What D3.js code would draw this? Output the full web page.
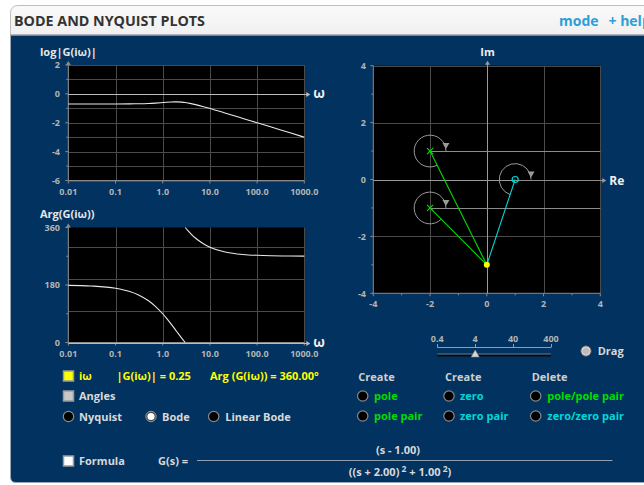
<!DOCTYPE html>
<html>
<head>
<meta charset="utf-8">
<script src="https://cdn.jsdelivr.net/npm/d3@7"></script>
<style>
  html, body { margin: 0; padding: 0; background: #fff; }
  svg { display: block; font-family: "Open Sans", "DejaVu Sans", sans-serif; }
</style>
</head>
<body>
<svg id="chart" width="644" height="485"></svg>
<script>
// ---- Transfer function G(s) = (s - 1) / ((s + 2)^2 + 1) ----
const poleRe = [-2, -2];
const poleIm = [1, -1];
const zeroRe = [1];
const zeroIm = [0];
const testIm = -3;                 // s = iω on the imaginary axis
const readMag = 0.25;
const readArg = 360.00;

// Bode magnitude, log10|G(iω)|
const magOmega = [0.01, 0.03, 0.1, 0.2, 0.3, 0.5, 0.7, 1, 1.2, 1.5, 1.75, 2, 2.5, 3, 4, 5, 7, 10, 20, 30, 50, 100, 200, 500, 1000];
const magLog   = [-0.699, -0.699, -0.697, -0.693, -0.685, -0.664, -0.638, -0.602, -0.583, -0.564, -0.557, -0.557, -0.573, -0.602, -0.673, -0.744, -0.868, -1.011, -1.304, -1.478, -1.699, -2.000, -2.301, -2.699, -3.000];

// Bode phase in degrees, two branches (wraps at ω = 3)
const phaseLowOmega  = [0.01, 0.03, 0.1, 0.2, 0.3, 0.5, 0.7, 1, 1.2, 1.5, 2, 2.5, 3];
const phaseLow       = [178.97, 176.9, 169.7, 159.5, 149.6, 130.6, 113.2, 90.0, 76.4, 58.3, 33.7, 14.7, 0];
const phaseHighOmega = [3, 3.5, 4, 5, 7, 10, 20, 30, 50, 100, 200, 500, 1000];
const phaseHigh      = [360, 348.6, 339.5, 326.3, 310.6, 298.5, 284.3, 279.6, 275.7, 272.9, 271.4, 270.6, 270.3];

// Axis ticks
const omegaTicks  = [0.01, 0.1, 1, 10, 100, 1000];
const omegaLabels = ["0.01", "0.1", "1.0", "10.0", "100.0", "1000.0"];
const magTicks    = [2, 0, -2, -4, -6];
const phaseTicks  = [360, 180, 0];
const planeTicks  = [-4, -2, 0, 2, 4];
const sliderTicks = [0.4, 4, 40, 400];
const sliderValue = 4;             // half-width of the s-plane view

const NAVY = "#02325f";
const GRID = "#4b4b4b";
const AXIS = "#8a8a8a";
const TICKTXT = "#b4b4b4";
const GREEN = "#00dd00";
const CYAN = "#00d8d8";

const svg = d3.select("#chart");

// ---- Panel frame ----
const defs = svg.append("defs");
const hg = defs.append("linearGradient").attr("id", "hdr").attr("x1", 0).attr("y1", 0).attr("x2", 0).attr("y2", 1);
hg.append("stop").attr("offset", "0%").attr("stop-color", "#fafafa");
hg.append("stop").attr("offset", "100%").attr("stop-color", "#ececec");

svg.append("rect").attr("x", 10.5).attr("y", 5.5).attr("width", 660).attr("height", 40)
  .attr("rx", 7).attr("fill", "url(#hdr)").attr("stroke", "#bdbdbd");
svg.append("path")
  .attr("d", "M10.5,35 L660,35 L660,482.5 L16,482.5 Q10.5,482.5 10.5,477 Z")
  .attr("fill", NAVY).attr("stroke", "#9aa7b5").attr("stroke-width", 1);
svg.append("line").attr("x1", 10.5).attr("x2", 644).attr("y1", 35).attr("y2", 35)
  .attr("stroke", "#9aa0a6");

svg.append("text").attr("x", 14).attr("y", 25.5)
  .attr("font-size", 14.3).attr("font-weight", 700).attr("fill", "#333")
  .text("BODE AND NYQUIST PLOTS");
svg.append("text").attr("x", 559).attr("y", 25.5)
  .attr("font-size", 14).attr("font-weight", 700).attr("fill", "#2b9fd8")
  .text("mode");
svg.append("text").attr("x", 608.5).attr("y", 25.5)
  .attr("font-size", 14).attr("font-weight", 700).attr("fill", "#2b9fd8")
  .text("+ help");

// small helpers
function arrowUp(g, x, y) {
  g.append("path").attr("d", `M${x},${y} l-2.5,4 l5,0 Z`).attr("fill", AXIS);
}
function arrowRight(g, x, y, color) {
  g.append("path").attr("d", `M${x},${y} l-4,-2.5 l0,5 Z`).attr("fill", color);
}

// ---- Bode plots ----
const bx = d3.scaleLog().domain([0.01, 1000]).range([68.3, 304.3]);
const magY = d3.scaleLinear().domain([-6, 2]).range([180.5, 65]);
const phY = d3.scaleLinear().domain([0, 360]).range([342.5, 227.5]);

function bodePanel(yScale, yTicks, minorTicks, title, titleY, axisValue) {
  const g = svg.append("g");
  const [y0, y1] = yScale.range();
  const [x0, x1] = bx.range();
  g.append("rect").attr("x", x0).attr("y", y1).attr("width", x1 - x0).attr("height", y0 - y1).attr("fill", "#000");
  // grid
  const hLines = yScale.ticks(yScale.domain()[1] - yScale.domain()[0] > 100 ? 4 : 8);
  g.selectAll(".gh").data(hLines).join("line")
    .attr("x1", x0).attr("x2", x1).attr("y1", d => Math.round(yScale(d)) + 0.5).attr("y2", d => Math.round(yScale(d)) + 0.5)
    .attr("stroke", GRID);
  g.selectAll(".gv").data(omegaTicks).join("line")
    .attr("x1", d => Math.round(bx(d)) + 0.5).attr("x2", d => Math.round(bx(d)) + 0.5).attr("y1", y1).attr("y2", y0)
    .attr("stroke", GRID);
  // left axis
  g.append("line").attr("x1", x0).attr("x2", x0).attr("y1", y0).attr("y2", y1 - 3).attr("stroke", AXIS);
  arrowUp(g, x0, y1 - 4);
  g.selectAll(".tl").data(yTicks).join("line")
    .attr("x1", x0 - 3).attr("x2", x0).attr("y1", d => yScale(d)).attr("y2", d => yScale(d)).attr("stroke", AXIS);
  g.selectAll(".tm").data(minorTicks).join("line")
    .attr("x1", x0 - 2).attr("x2", x0).attr("y1", d => yScale(d)).attr("y2", d => yScale(d)).attr("stroke", AXIS);
  g.selectAll(".yl").data(yTicks).join("text")
    .attr("x", 60).attr("y", d => yScale(d) + 3.2).attr("text-anchor", "end")
    .attr("font-size", 9).attr("font-weight", 700).attr("fill", TICKTXT).text(d => d);
  // bottom axis
  g.append("line").attr("x1", x0).attr("x2", x1).attr("y1", y0).attr("y2", y0).attr("stroke", AXIS);
  g.selectAll(".tb").data(omegaTicks).join("line")
    .attr("x1", d => bx(d)).attr("x2", d => bx(d)).attr("y1", y0).attr("y2", y0 + 3).attr("stroke", AXIS);
  g.selectAll(".xl").data(omegaTicks).join("text")
    .attr("x", d => bx(d)).attr("y", y0 + 14.5).attr("text-anchor", "middle")
    .attr("font-size", 9).attr("font-weight", 700).attr("fill", TICKTXT)
    .text((d, i) => omegaLabels[i]);
  // ω axis line
  const ya = Math.round(yScale(axisValue)) + 0.5;
  g.append("line").attr("x1", x0).attr("x2", x1 + 4).attr("y1", ya).attr("y2", ya).attr("stroke", "#bdbdbd");
  arrowRight(g, x1 + 6, ya, "#bdbdbd");
  g.append("text").attr("x", x1 + 9).attr("y", ya + 3.5).attr("font-size", 13.5).attr("font-weight", 700)
    .attr("fill", "#f0f0f0").text("ω");
  g.append("text").attr("x", 40).attr("y", titleY).attr("font-size", 11).attr("font-weight", 700)
    .attr("fill", "#e6e6e6").text(title);
  return g;
}

const gMag = bodePanel(magY, magTicks, [1, -1, -3, -5], "log|G(iω)|", 56, 0);
const gPh = bodePanel(phY, phaseTicks, [270, 90], "Arg(G(iω))", 218, 0);

const magLine = d3.line().x(d => bx(d[0])).y(d => magY(d[1])).curve(d3.curveMonotoneX);
gMag.append("path").datum(d3.zip(magOmega, magLog)).attr("d", magLine)
  .attr("fill", "none").attr("stroke", "#e8e8e8").attr("stroke-width", 1.1);

const phLine = d3.line().x(d => bx(d[0])).y(d => phY(d[1])).curve(d3.curveMonotoneX);
[[phaseLowOmega, phaseLow], [phaseHighOmega, phaseHigh]].forEach(([w, p]) => {
  gPh.append("path").datum(d3.zip(w, p)).attr("d", phLine)
    .attr("fill", "none").attr("stroke", "#e8e8e8").attr("stroke-width", 1.1);
});

// ---- s-plane (pole/zero) plot ----
const px = d3.scaleLinear().domain([-sliderValue, sliderValue]).range([373.3, 600.3]);
const py = d3.scaleLinear().domain([-sliderValue, sliderValue]).range([293.3, 65.7]);
const gp = svg.append("g");
gp.append("rect").attr("x", px(-4)).attr("y", py(4)).attr("width", px(4) - px(-4)).attr("height", py(-4) - py(4)).attr("fill", "#000");
gp.selectAll(".gx").data(planeTicks.slice(1)).join("line")
  .attr("x1", d => Math.round(px(d)) + 0.5).attr("x2", d => Math.round(px(d)) + 0.5)
  .attr("y1", py(4)).attr("y2", py(-4)).attr("stroke", GRID);
gp.selectAll(".gy").data(planeTicks.slice(1)).join("line")
  .attr("y1", d => Math.round(py(d)) + 0.5).attr("y2", d => Math.round(py(d)) + 0.5)
  .attr("x1", px(-4)).attr("x2", px(4)).attr("stroke", GRID);
// left and bottom axes
gp.append("line").attr("x1", px(-4)).attr("x2", px(-4)).attr("y1", py(-4)).attr("y2", py(4)).attr("stroke", AXIS);
gp.append("line").attr("x1", px(-4)).attr("x2", px(4)).attr("y1", py(-4)).attr("y2", py(-4)).attr("stroke", AXIS);
const minorPlane = [-3, -1, 1, 3];
gp.selectAll(".ty").data(planeTicks).join("line")
  .attr("x1", px(-4) - 3).attr("x2", px(-4)).attr("y1", d => py(d)).attr("y2", d => py(d)).attr("stroke", AXIS);
gp.selectAll(".tym").data(minorPlane).join("line")
  .attr("x1", px(-4) - 2).attr("x2", px(-4)).attr("y1", d => py(d)).attr("y2", d => py(d)).attr("stroke", AXIS);
gp.selectAll(".tx").data(planeTicks).join("line")
  .attr("y1", py(-4)).attr("y2", py(-4) + 3).attr("x1", d => px(d)).attr("x2", d => px(d)).attr("stroke", AXIS);
gp.selectAll(".txm").data(minorPlane).join("line")
  .attr("y1", py(-4)).attr("y2", py(-4) + 2).attr("x1", d => px(d)).attr("x2", d => px(d)).attr("stroke", AXIS);
gp.selectAll(".yl").data(planeTicks).join("text")
  .attr("x", 366).attr("y", d => py(d) + 3.2).attr("text-anchor", "end")
  .attr("font-size", 9).attr("font-weight", 700).attr("fill", TICKTXT).text(d => d);
gp.selectAll(".xl").data(planeTicks).join("text")
  .attr("x", d => px(d)).attr("y", py(-4) + 14).attr("text-anchor", "middle")
  .attr("font-size", 9).attr("font-weight", 700).attr("fill", TICKTXT).text(d => d);
// Re / Im axes
const reY = Math.round(py(0)) + 0.5, imX = Math.round(px(0)) + 0.5;
gp.append("line").attr("x1", px(-4)).attr("x2", px(4) + 4).attr("y1", reY).attr("y2", reY).attr("stroke", "#9a9a9a");
arrowRight(gp, px(4) + 6, reY, "#9a9a9a");
gp.append("line").attr("x1", imX).attr("x2", imX).attr("y1", py(-4)).attr("y2", py(4) - 3).attr("stroke", "#9a9a9a");
gp.append("path").attr("d", `M${imX},${py(4) - 5} l-2.5,4 l5,0 Z`).attr("fill", "#9a9a9a");
gp.append("text").attr("x", px(4) + 9).attr("y", reY + 4.5).attr("font-size", 12).attr("font-weight", 700)
  .attr("fill", "#f0f0f0").text("Re");
gp.append("text").attr("x", imX).attr("y", 56).attr("text-anchor", "middle").attr("font-size", 11).attr("font-weight", 700)
  .attr("fill", "#f0f0f0").text("Im");

// angle construction for each pole and zero
const roots = poleRe.map((r, i) => ({ re: r, im: poleIm[i], kind: "pole" }))
  .concat(zeroRe.map((r, i) => ({ re: r, im: zeroIm[i], kind: "zero" })));
const arcR = 0.56;
roots.forEach(d => {
  const cx = px(d.re), cy = py(d.im);
  // reference line to the right
  gp.append("line").attr("x1", cx).attr("x2", px(4)).attr("y1", Math.round(cy) + 0.5).attr("y2", Math.round(cy) + 0.5)
    .attr("stroke", "#8c8c8c");
  // angle arc
  let th = Math.atan2(testIm - d.im, 0 - d.re);
  if (th < 0) th += 2 * Math.PI;
  const r = px(arcR) - px(0);
  const p = d3.path();
  p.moveTo(cx + r, cy);
  p.arc(cx, cy, r, 0, -th, true);
  gp.append("path").attr("d", p.toString()).attr("fill", "none").attr("stroke", "#9a9a9a");
  gp.append("path").attr("d", `M${cx + r - 3.5},${cy - 8} l7,0 l-3.5,6 Z`).attr("fill", "#9a9a9a");
});
// lines from each root to iω
const tx = px(0), ty = py(testIm);
roots.forEach(d => {
  gp.append("line").attr("x1", px(d.re)).attr("y1", py(d.im)).attr("x2", tx).attr("y2", ty)
    .attr("stroke", d.kind === "pole" ? GREEN : CYAN).attr("stroke-width", 1.1);
});
roots.filter(d => d.kind === "pole").forEach(d => {
  const cx = px(d.re), cy = py(d.im);
  gp.append("path").attr("d", `M${cx - 3},${cy - 3} L${cx + 3},${cy + 3} M${cx - 3},${cy + 3} L${cx + 3},${cy - 3}`)
    .attr("stroke", GREEN).attr("stroke-width", 1.2);
});
roots.filter(d => d.kind === "zero").forEach(d => {
  gp.append("circle").attr("cx", px(d.re)).attr("cy", py(d.im)).attr("r", 3)
    .attr("fill", "none").attr("stroke", CYAN).attr("stroke-width", 1.2);
});
gp.append("circle").attr("cx", tx).attr("cy", ty).attr("r", 3).attr("fill", "#ffff00");

// ---- Range slider ----
const sx = d3.scaleLog().domain([0.4, 400]).range([437.3, 551]);
const gs = svg.append("g");
gs.selectAll("text").data(sliderTicks).join("text")
  .attr("x", d => sx(d)).attr("y", 341.5).attr("text-anchor", "middle")
  .attr("font-size", 9).attr("font-weight", 700).attr("fill", TICKTXT).text(d => d);
gs.append("line").attr("x1", sx(0.4)).attr("x2", sx(400)).attr("y1", 347.5).attr("y2", 347.5).attr("stroke", "#9a9a9a");
gs.selectAll(".st").data(sliderTicks).join("line")
  .attr("x1", d => Math.round(sx(d)) + 0.5).attr("x2", d => Math.round(sx(d)) + 0.5)
  .attr("y1", 344).attr("y2", 347.5).attr("stroke", "#9a9a9a");
gs.append("line").attr("x1", sx(0.4)).attr("x2", sx(400)).attr("y1", 355.5).attr("y2", 355.5)
  .attr("stroke", "#0a0a0a").attr("stroke-width", 2);
gs.append("line").attr("x1", sx(0.4)).attr("x2", sx(400)).attr("y1", 354).attr("y2", 354)
  .attr("stroke", "#7d8b99").attr("stroke-width", 0.8);
gs.append("path").attr("d", `M${sx(sliderValue)},${350} l-4,7 l8,0 Z`).attr("fill", "#d8d8d8").attr("stroke", "#888").attr("stroke-width", 0.6);

// ---- Controls ----
const ctrl = svg.append("g").attr("font-size", 11).attr("font-weight", 700);
function radio(x, y, state) {
  if (state === "on") {
    ctrl.append("circle").attr("cx", x).attr("cy", y).attr("r", 5.2).attr("fill", "#444").attr("stroke", "#999");
    ctrl.append("circle").attr("cx", x).attr("cy", y).attr("r", 3.6).attr("fill", "#fff");
  } else if (state === "drag") {
    ctrl.append("circle").attr("cx", x).attr("cy", y).attr("r", 5.2).attr("fill", "#ddd").attr("stroke", "#555");
    ctrl.append("circle").attr("cx", x).attr("cy", y).attr("r", 3.5).attr("fill", "#bcbcbc");
  } else {
    ctrl.append("circle").attr("cx", x).attr("cy", y).attr("r", 5.2).attr("fill", "#000").attr("stroke", "#8a8a8a").attr("stroke-width", 1.2);
  }
}
function checkbox(x, y, fill) {
  ctrl.append("rect").attr("x", x - 5).attr("y", y - 5).attr("width", 10).attr("height", 10)
    .attr("fill", fill).attr("stroke", "#9a9a9a").attr("stroke-width", 1.5);
}
function label(x, y, t, color) {
  ctrl.append("text").attr("x", x).attr("y", y + 4).attr("fill", color || "#d9d9d9").text(t);
}
const YEL = "#ffff00";
checkbox(68.5, 376, YEL);
label(79, 376, "iω", YEL);
label(116.5, 376, `|G(iω)| = ${readMag.toFixed(2)}`, YEL);
label(210, 376, `Arg (G(iω)) = ${readArg.toFixed(2)}°`, YEL);
checkbox(68.5, 396, "#c8c8c8");
label(79, 396, "Angles");
radio(68.5, 416.5); label(79, 416.5, "Nyquist");
radio(151, 416.5, "on"); label(162, 416.5, "Bode");
radio(213.7, 416.5); label(225.3, 416.5, "Linear Bode");
checkbox(68.5, 461, "#fff");
label(79, 461, "Formula");
label(158, 461, "G(s) =");

radio(586, 351, "drag"); label(597.7, 351, "Drag");
label(358.3, 376.5, "Create", "#cfcfcf");
label(445, 376.5, "Create", "#cfcfcf");
label(531.7, 376.5, "Delete", "#cfcfcf");
radio(362.7, 396); label(374, 396, "pole", GREEN);
radio(362.7, 416); label(374, 416, "pole pair", GREEN);
radio(449, 396); label(460, 396, "zero", CYAN);
radio(449, 416); label(460, 416, "zero pair", CYAN);
radio(535.7, 396); label(547.3, 396, "pole/pole pair", GREEN);
radio(535.7, 416); label(547.3, 416, "zero/zero pair", CYAN);

// formula fraction
const fmt = v => v.toFixed(2);
const fg = svg.append("g").attr("font-size", 11).attr("font-weight", 700).attr("fill", "#d9d9d9");
fg.append("line").attr("x1", 197).attr("x2", 612.5).attr("y1", 460.5).attr("y2", 460.5).attr("stroke", "#8fa0b3");
fg.append("text").attr("x", 398).attr("y", 453.5).attr("text-anchor", "middle")
  .text(`(s - ${fmt(zeroRe[0])})`);
const den = fg.append("text").attr("x", 400).attr("y", 476).attr("text-anchor", "middle");
den.append("tspan").text(`((s + ${fmt(-poleRe[0])})`);
den.append("tspan").attr("dy", -4).attr("font-size", 8.5).text(" 2");
den.append("tspan").attr("dy", 4).text(` + ${fmt(Math.abs(poleIm[0]))}`);
den.append("tspan").attr("dy", -4).attr("font-size", 8.5).text(" 2");
den.append("tspan").attr("dy", 4).text(")");
</script>
</body>
</html>
